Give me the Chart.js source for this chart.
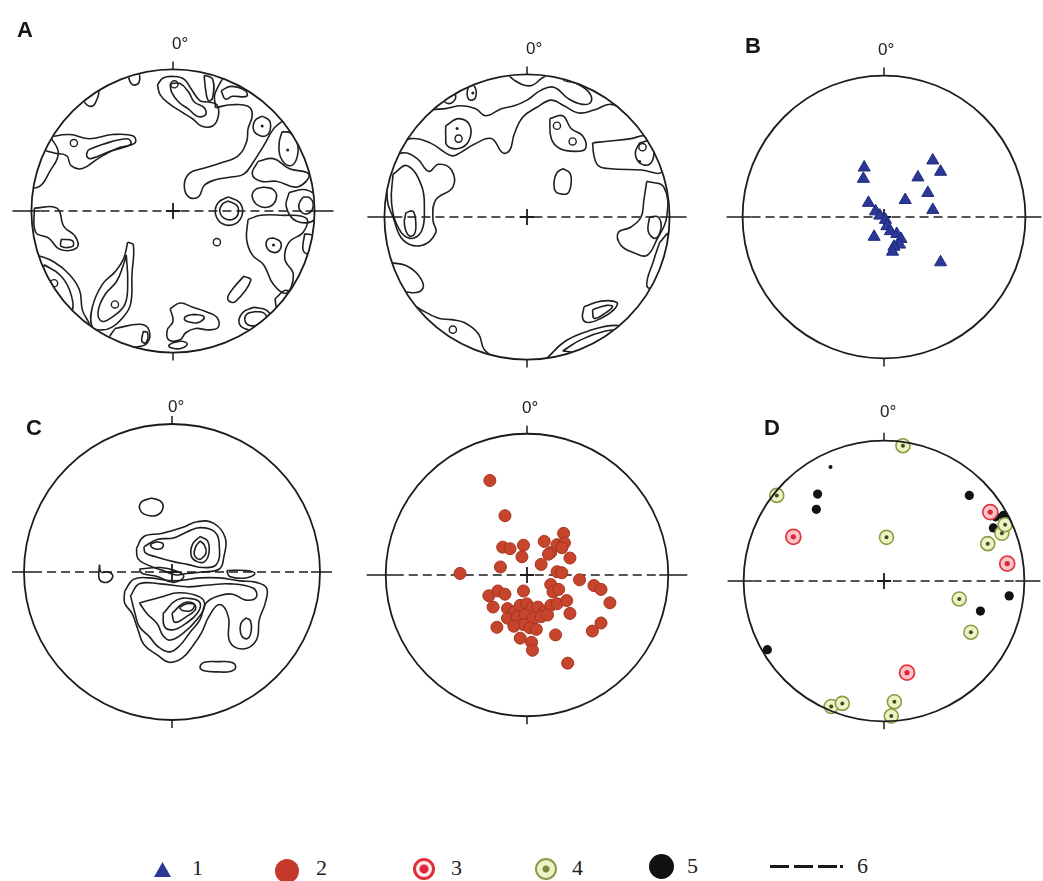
<!DOCTYPE html>
<html><head><meta charset="utf-8">
<script src="https://cdn.jsdelivr.net/npm/chart.js@4.4.1/dist/chart.umd.min.js"></script>
<style>
html,body{margin:0;padding:0;background:#fff}
body{width:1043px;height:881px;position:relative;overflow:hidden;font-family:"Liberation Sans",Arial,sans-serif}
.net{position:absolute}
.deg{position:absolute;font-size:17px;line-height:17px;color:#222;white-space:nowrap}
.let{position:absolute;font-size:22px;font-weight:bold;line-height:22px;color:#151515}
.lg{position:absolute;font-family:"Liberation Serif","DejaVu Serif",serif;font-size:22px;line-height:22px;color:#222}
.mk{position:absolute;box-sizing:border-box}
</style></head><body>
<script>
// ---------- DATA (unit-circle stereonet coordinates, x = east, y = north) ----------
const panelLetters = ['A','B','C','D'];
const northLabel = '0°';
const legendLabels = ['1','2','3','4','5','6'];

// A (left): contour lines
const a1Contours = [
 [[-0.31,0.99],[-0.25,0.99],[-0.24,0.91],[-0.28,0.89],[-0.31,0.93]],
 [[-0.63,0.84],[-0.53,0.86],[-0.55,0.76],[-0.59,0.74],[-0.63,0.78]],
 [[-0.11,0.89],[-0.07,0.94],[0.01,0.95],[0.08,0.93],[0.13,0.86],[0.19,0.78],[0.25,0.77],[0.31,0.75],[0.32,0.67],[0.28,0.60],[0.20,0.60],[0.14,0.65],[0.06,0.70],[-0.03,0.76],[-0.09,0.82]],
 [[-0.02,0.90],[0.05,0.90],[0.11,0.84],[0.15,0.77],[0.22,0.73],[0.23,0.68],[0.17,0.67],[0.11,0.72],[0.04,0.77],[-0.01,0.84]],
 [[0.22,0.96],[0.28,0.93],[0.28,0.80],[0.25,0.78],[0.23,0.86]],
 [[0.34,0.85],[0.41,0.88],[0.51,0.85],[0.52,0.81],[0.42,0.81],[0.37,0.79]],
 [[0.30,0.73],[0.41,0.75],[0.53,0.74],[0.56,0.68],[0.53,0.58],[0.52,0.49],[0.46,0.39],[0.34,0.34],[0.21,0.30],[0.12,0.27],[0.08,0.19],[0.11,0.10],[0.18,0.10],[0.22,0.18],[0.30,0.22],[0.41,0.24],[0.50,0.26],[0.57,0.35],[0.64,0.46],[0.71,0.58],[0.82,0.70],[0.66,0.92],[0.42,0.98],[0.30,0.84]],
 [[0.63,0.67],[0.68,0.64],[0.69,0.60],[0.67,0.54],[0.62,0.53],[0.57,0.57],[0.58,0.64]],
 [[0.77,0.56],[0.83,0.55],[0.88,0.47],[0.87,0.36],[0.82,0.32],[0.76,0.38],[0.75,0.48]],
 [[0.60,0.35],[0.71,0.37],[0.82,0.30],[0.96,0.26],[0.88,0.17],[0.73,0.21],[0.62,0.21],[0.56,0.26]],
 [[0.64,0.17],[0.71,0.15],[0.73,0.09],[0.68,0.03],[0.60,0.04],[0.56,0.10],[0.58,0.15]],
 [[0.39,0.10],[0.47,0.06],[0.49,-0.02],[0.44,-0.09],[0.35,-0.09],[0.30,-0.02],[0.32,0.06]],
 [[0.39,0.07],[0.45,0.04],[0.46,-0.02],[0.42,-0.06],[0.36,-0.05],[0.33,0.00],[0.35,0.05]],
 [[0.92,0.10],[0.97,0.09],[0.99,0.03],[0.95,-0.02],[0.90,0.00],[0.89,0.05]],
 [[0.82,0.13],[0.94,0.15],[1.02,0.08],[1.00,-0.06],[0.87,-0.07],[0.80,0.03]],
 [[0.53,-0.06],[0.62,-0.03],[0.76,-0.03],[0.94,-0.05],[0.92,-0.15],[0.82,-0.22],[0.79,-0.34],[0.85,-0.45],[0.80,-0.58],[0.71,-0.52],[0.64,-0.38],[0.56,-0.31],[0.52,-0.20]],
 [[0.71,-0.19],[0.76,-0.22],[0.75,-0.28],[0.70,-0.29],[0.66,-0.25],[0.67,-0.20]],
 [[0.93,-0.16],[0.99,-0.18],[0.97,-0.30],[0.92,-0.28]],
 [[0.50,-0.46],[0.55,-0.49],[0.44,-0.64],[0.39,-0.63],[0.40,-0.58]],
 [[0.57,-0.68],[0.66,-0.70],[0.69,-0.76],[0.64,-0.83],[0.54,-0.84],[0.47,-0.80],[0.49,-0.72]],
 [[0.58,-0.71],[0.64,-0.72],[0.66,-0.76],[0.62,-0.80],[0.55,-0.81],[0.51,-0.78],[0.52,-0.73]],
 [[0.72,-0.62],[0.80,-0.56],[0.86,-0.62],[0.80,-0.70],[0.74,-0.70]],
 [[-0.02,-0.69],[0.05,-0.65],[0.14,-0.68],[0.23,-0.71],[0.31,-0.75],[0.32,-0.82],[0.25,-0.84],[0.16,-0.83],[0.09,-0.86],[0.05,-0.91],[-0.03,-0.91],[-0.04,-0.84],[0.00,-0.78]],
 [[0.15,-0.73],[0.21,-0.74],[0.22,-0.76],[0.17,-0.79],[0.10,-0.78],[0.08,-0.76],[0.10,-0.74]],
 [[0.00,-0.93],[0.06,-0.92],[0.10,-0.94],[0.06,-0.97],[0.00,-0.97],[-0.03,-0.95]],
 [[-0.32,-0.22],[-0.28,-0.24],[-0.29,-0.45],[-0.30,-0.66],[-0.36,-0.76],[-0.43,-0.82],[-0.50,-0.84],[-0.57,-0.82],[-0.57,-0.68],[-0.50,-0.52],[-0.41,-0.43],[-0.35,-0.34]],
 [[-0.33,-0.31],[-0.32,-0.50],[-0.34,-0.66],[-0.43,-0.75],[-0.50,-0.78],[-0.53,-0.72],[-0.48,-0.59],[-0.40,-0.50],[-0.35,-0.38]],
 [[-0.41,-0.83],[-0.23,-0.80],[-0.17,-0.84],[-0.18,-0.93],[-0.25,-0.96],[-0.36,-0.95],[-0.45,-0.91]],
 [[-0.21,-0.85],[-0.18,-0.86],[-0.19,-0.93],[-0.22,-0.92]],
 [[-0.96,-0.31],[-0.84,-0.36],[-0.73,-0.45],[-0.66,-0.56],[-0.64,-0.70],[-0.59,-0.82],[-0.68,-0.84],[-0.80,-0.75],[-0.91,-0.61],[-1.00,-0.50]],
 [[-0.91,-0.38],[-0.80,-0.45],[-0.73,-0.56],[-0.71,-0.70],[-0.77,-0.68],[-0.87,-0.59],[-0.93,-0.50]],
 [[-0.98,0.02],[-0.82,0.02],[-0.77,-0.11],[-0.69,-0.18],[-0.68,-0.26],[-0.80,-0.27],[-0.88,-0.19],[-0.97,-0.15]],
 [[-0.79,-0.20],[-0.71,-0.21],[-0.71,-0.25],[-0.79,-0.25]],
 [[-0.89,0.52],[-0.73,0.54],[-0.59,0.51],[-0.43,0.54],[-0.28,0.53],[-0.27,0.48],[-0.40,0.44],[-0.53,0.37],[-0.64,0.30],[-0.72,0.32],[-0.75,0.39],[-0.84,0.41],[-0.91,0.44]],
 [[-0.60,0.43],[-0.50,0.47],[-0.32,0.51],[-0.30,0.47],[-0.45,0.42],[-0.58,0.37],[-0.61,0.39]],
 [[-0.87,0.53],[-0.81,0.41],[-0.87,0.28],[-0.95,0.17],[-1.05,0.20],[-1.00,0.50]]
];
const a1Rings = [[0.01,0.895],[-0.70,0.48],[-0.41,-0.66],[-0.84,-0.51],[0.31,-0.22]];
const a1Dots = [[0.63,0.60],[0.81,0.43],[0.71,-0.24]];

// A (middle): contour lines
const a2Contours = [
 [[-0.14,1.10],[-0.14,1.02],[-0.09,0.96],[0.02,0.92],[0.10,0.97],[0.16,1.02],[0.16,1.10]],
 [[-0.80,0.62],[-0.69,0.74],[-0.57,0.76],[-0.46,0.78],[-0.36,0.76],[-0.29,0.71],[-0.18,0.76],[-0.09,0.78],[0.00,0.82],[0.10,0.89],[0.19,0.91],[0.29,0.83],[0.39,0.79],[0.45,0.81],[0.43,0.88],[0.34,0.94],[0.25,0.97],[0.25,1.14],[-0.53,1.14],[-0.98,0.80]],
 [[-0.90,0.50],[-0.82,0.55],[-0.68,0.52],[-0.53,0.43],[-0.47,0.45],[-0.37,0.51],[-0.25,0.55],[-0.17,0.45],[-0.12,0.47],[-0.09,0.58],[-0.03,0.70],[0.07,0.77],[0.17,0.82],[0.26,0.78],[0.36,0.73],[0.47,0.75],[0.59,0.79],[0.73,0.72],[0.84,0.66],[1.03,0.62],[0.84,1.14],[-0.53,1.26],[-1.10,0.69]],
 [[-0.59,0.86],[-0.55,0.89],[-0.50,0.85],[-0.53,0.80],[-0.58,0.81]],
 [[-0.41,0.92],[-0.37,0.92],[-0.36,0.84],[-0.40,0.82],[-0.42,0.86]],
 [[-0.57,0.64],[-0.48,0.69],[-0.40,0.64],[-0.41,0.53],[-0.48,0.48],[-0.56,0.50],[-0.57,0.57]],
 [[0.25,0.34],[0.30,0.31],[0.31,0.24],[0.29,0.17],[0.25,0.16],[0.20,0.18],[0.19,0.25],[0.21,0.31]],
 [[0.16,0.69],[0.25,0.71],[0.31,0.62],[0.39,0.57],[0.41,0.48],[0.34,0.46],[0.23,0.48],[0.17,0.55]],
 [[0.46,0.52],[0.55,0.53],[0.73,0.55],[0.82,0.57],[0.93,0.55],[0.95,0.32],[0.80,0.33],[0.57,0.34],[0.50,0.36],[0.47,0.43]],
 [[0.79,0.52],[0.86,0.53],[0.89,0.45],[0.86,0.37],[0.79,0.38],[0.76,0.45]],
 [[0.84,0.25],[0.96,0.21],[0.98,0.00],[0.91,-0.16],[0.84,-0.27],[0.75,-0.25],[0.66,-0.20],[0.64,-0.11],[0.73,-0.07],[0.80,0.00],[0.82,0.12]],
 [[0.86,0.00],[0.92,0.00],[0.94,-0.08],[0.90,-0.15],[0.85,-0.10]],
 [[0.93,-0.18],[0.99,-0.12],[0.97,-0.32],[0.90,-0.50],[0.84,-0.48],[0.89,-0.30]],
 [[0.40,-0.63],[0.52,-0.59],[0.63,-0.60],[0.61,-0.65],[0.52,-0.71],[0.43,-0.74],[0.39,-0.71]],
 [[0.46,-0.65],[0.56,-0.62],[0.60,-0.63],[0.54,-0.68],[0.47,-0.71]],
 [[0.14,-0.99],[0.27,-0.87],[0.43,-0.80],[0.62,-0.76],[0.70,-0.80],[0.50,-1.00]],
 [[0.25,-0.94],[0.38,-0.86],[0.55,-0.80],[0.64,-0.80],[0.45,-0.95]],
 [[-0.85,-0.58],[-0.76,-0.64],[-0.62,-0.71],[-0.53,-0.72],[-0.44,-0.74],[-0.34,-0.82],[-0.30,-0.93],[-0.18,-1.03],[-0.98,-0.80]],
 [[-0.96,-0.32],[-0.85,-0.34],[-0.76,-0.41],[-0.73,-0.50],[-0.82,-0.53],[-0.92,-0.48]],
 [[-0.85,0.03],[-0.80,0.04],[-0.78,-0.04],[-0.79,-0.12],[-0.83,-0.13],[-0.86,-0.05]],
 [[-0.97,0.40],[-0.87,0.45],[-0.77,0.41],[-0.69,0.32],[-0.62,0.37],[-0.53,0.33],[-0.52,0.21],[-0.64,0.12],[-0.66,-0.02],[-0.64,-0.11],[-0.74,-0.20],[-0.87,-0.16],[-0.94,0.00],[-0.98,0.12]],
 [[-0.94,0.30],[-0.84,0.36],[-0.74,0.22],[-0.72,0.06],[-0.74,-0.10],[-0.82,-0.15],[-0.90,-0.08],[-0.95,0.10]]
];
const a2Rings = [[-0.48,0.55],[0.21,0.64],[0.32,0.53],[0.81,0.49],[-0.52,-0.79]];
const a2Dots = [[-0.49,0.62],[0.79,0.39],[-0.38,0.87]];

// B: poles (triangles)
const bPoles = [
 [-0.14,0.35],[-0.146,0.27],[0.345,0.40],[0.40,0.32],[0.24,0.28],[0.31,0.17],[0.15,0.12],
 [-0.11,0.10],[0.345,0.05],[-0.06,0.04],[-0.03,0.01],[0.01,-0.02],[0.02,-0.065],[0.045,-0.10],
 [0.09,-0.12],[0.12,-0.155],[0.11,-0.195],[0.07,-0.21],[0.06,-0.245],[-0.07,-0.14],[0.40,-0.32]
];

// C (left): contour lines
const c1Contours = [
 [[-0.14,0.50],[-0.08,0.48],[-0.06,0.44],[-0.09,0.39],[-0.15,0.38],[-0.21,0.41],[-0.21,0.47]],
 [[-0.24,0.16],[-0.19,0.24],[-0.07,0.26],[0.07,0.30],[0.17,0.34],[0.28,0.33],[0.36,0.23],[0.35,0.10],[0.32,0.02],[0.20,0.00],[0.10,-0.01],[0.03,-0.02],[-0.06,0.01],[-0.17,0.05],[-0.23,0.09]],
 [[-0.19,0.17],[-0.10,0.22],[0.01,0.23],[0.10,0.27],[0.19,0.30],[0.29,0.27],[0.32,0.17],[0.30,0.05],[0.21,0.03],[0.11,0.05],[0.01,0.07],[-0.10,0.10],[-0.18,0.13]],
 [[-0.10,0.205],[-0.06,0.19],[-0.07,0.16],[-0.11,0.155],[-0.14,0.17],[-0.14,0.19]],
 [[0.19,0.24],[0.24,0.21],[0.25,0.13],[0.22,0.07],[0.17,0.07],[0.13,0.11],[0.14,0.19]],
 [[0.19,0.21],[0.22,0.18],[0.23,0.13],[0.20,0.09],[0.17,0.09],[0.15,0.12],[0.16,0.17]],
 [[-0.32,-0.13],[-0.26,-0.05],[-0.15,-0.04],[0.01,-0.06],[0.19,-0.04],[0.32,-0.04],[0.46,-0.06],[0.57,-0.07],[0.64,-0.11],[0.63,-0.21],[0.59,-0.32],[0.57,-0.46],[0.48,-0.52],[0.39,-0.47],[0.38,-0.30],[0.32,-0.22],[0.25,-0.30],[0.20,-0.41],[0.14,-0.50],[0.07,-0.58],[-0.02,-0.61],[-0.10,-0.56],[-0.19,-0.49],[-0.23,-0.39],[-0.27,-0.28],[-0.32,-0.21]],
 [[-0.28,-0.16],[-0.22,-0.08],[-0.08,-0.08],[0.10,-0.10],[0.23,-0.09],[0.39,-0.08],[0.55,-0.11],[0.57,-0.17],[0.50,-0.19],[0.41,-0.15],[0.32,-0.16],[0.23,-0.21],[0.19,-0.32],[0.12,-0.41],[0.05,-0.50],[-0.02,-0.54],[-0.10,-0.50],[-0.15,-0.44],[-0.22,-0.37],[-0.25,-0.28]],
 [[-0.22,-0.21],[-0.08,-0.17],[0.05,-0.14],[0.19,-0.17],[0.22,-0.23],[0.17,-0.32],[0.08,-0.41],[-0.01,-0.46],[-0.06,-0.43],[-0.10,-0.35],[-0.17,-0.28]],
 [[-0.06,-0.28],[0.03,-0.19],[0.13,-0.18],[0.19,-0.21],[0.17,-0.28],[0.09,-0.35],[0.01,-0.39],[-0.05,-0.37]],
 [[0.00,-0.28],[0.08,-0.21],[0.14,-0.21],[0.16,-0.25],[0.10,-0.30],[0.02,-0.34]],
 [[0.05,-0.24],[0.10,-0.215],[0.15,-0.22],[0.13,-0.26],[0.07,-0.26]],
 [[0.50,-0.31],[0.53,-0.33],[0.535,-0.40],[0.51,-0.45],[0.47,-0.43],[0.465,-0.35]],
 [[0.31,-0.605],[0.40,-0.61],[0.43,-0.64],[0.40,-0.67],[0.31,-0.675],[0.21,-0.665],[0.19,-0.64],[0.22,-0.61]],
 [[-0.49,0.05],[-0.49,-0.05],[-0.44,-0.07],[-0.40,-0.03],[-0.43,0.00],[-0.48,0.00]],
 [[-0.22,0.02],[-0.08,0.03],[0.02,0.01],[0.08,-0.03],[0.01,-0.07],[-0.10,-0.03],[-0.20,-0.01]],
 [[0.37,0.01],[0.50,0.01],[0.56,-0.01],[0.50,-0.04],[0.39,-0.03]]
];

// C (middle): poles (red dots)
const c2Poles = [
 [-0.263,0.669],[-0.156,0.420],[-0.172,0.197],[-0.120,0.186],[-0.025,0.211],[-0.036,0.129],[0.122,0.238],
 [0.168,0.159],[0.213,0.215],[0.259,0.295],[0.265,0.227],[0.247,0.193],[0.304,0.120],[0.152,0.147],
 [0.100,0.075],[-0.188,0.057],[-0.474,0.011],[0.213,0.023],[0.247,0.016],[0.372,-0.034],[0.474,-0.075],
 [0.524,-0.102],[0.587,-0.197],[-0.270,-0.147],[-0.206,-0.113],[-0.156,-0.136],[-0.240,-0.227],[-0.025,-0.113],
 [0.168,-0.068],[0.184,-0.120],[0.224,-0.102],[-0.138,-0.238],[-0.093,-0.261],[-0.048,-0.215],[-0.002,-0.204],
 [0.032,-0.238],[0.077,-0.227],[0.122,-0.261],[0.168,-0.215],[0.213,-0.204],[0.281,-0.181],[0.304,-0.272],
 [-0.138,-0.306],[-0.070,-0.295],[-0.014,-0.283],[0.043,-0.306],[0.100,-0.295],[0.145,-0.283],[-0.025,-0.351],
 [-0.093,-0.363],[0.020,-0.374],[0.066,-0.385],[-0.213,-0.370],[-0.048,-0.447],[0.032,-0.476],[0.039,-0.533],
 [0.202,-0.424],[0.463,-0.397],[0.524,-0.340],[0.288,-0.624]
];

// D: three groups of poles
const dGroup3 = [[-0.646,0.315],[0.757,0.491],[0.878,0.124],[0.164,-0.653]];
const dGroup4 = [[0.135,0.964],[-0.764,0.610],[0.018,0.311],[0.739,0.266],[0.840,0.340],[0.863,0.401],
 [0.536,-0.128],[0.619,-0.365],[-0.376,-0.894],[-0.297,-0.872],[0.074,-0.860],[0.052,-0.962]];
const dGroup5 = [[-0.473,0.619],[-0.482,0.511],[0.608,0.610],[0.795,0.457],[0.851,0.468],[0.874,0.430],
 [0.779,0.378],[0.892,-0.106],[0.687,-0.214],[-0.831,-0.489]];
const dGroup5Small = [[-0.381,0.813]];

// ---------- RENDERING ----------
const INK = '#1f1f1f';
const panels = [
 {key:'a1', cx:173, cy:211, r:146, ext:19, clip:true, label:{x:172,y:35}, letter:{t:panelLetters[0],x:17,y:19}},
 {key:'a2', cx:527, cy:217, r:147, ext:17, clip:true, label:{x:526,y:40}},
 {key:'b',  cx:884, cy:217, r:148, ext:16, clip:false, label:{x:878,y:41}, letter:{t:panelLetters[1],x:745,y:35}},
 {key:'c1', cx:172, cy:572, r:148, ext:12, clip:true, label:{x:168,y:398}, letter:{t:panelLetters[2],x:26,y:417}},
 {key:'c2', cx:527, cy:575, r:147, ext:19, clip:false, label:{x:522,y:399}},
 {key:'d',  cx:884, cy:581, r:148, ext:16, clip:false, label:{x:880,y:403}, letter:{t:panelLetters[3],x:764,y:417}}
];
const PAD = 32;

const stereo = {
 id:'stereo',
 beforeDatasetsDraw(chart, args, o){
  const ctx = chart.ctx, xs = chart.scales.x, ys = chart.scales.y;
  const cx = xs.getPixelForValue(0), cy = ys.getPixelForValue(0), r = xs.getPixelForValue(1) - cx;
  ctx.save();
  ctx.strokeStyle = '#1c1c1c'; ctx.lineWidth = 1.7;
  ctx.setLineDash([9,5]);
  ctx.beginPath(); ctx.moveTo(cx - r + 9, cy); ctx.lineTo(cx + r - 9, cy); ctx.stroke();
  ctx.setLineDash([]);
  ctx.beginPath();
  ctx.moveTo(cx - r - o.ext, cy); ctx.lineTo(cx - r + 9, cy);
  ctx.moveTo(cx + r - 9, cy); ctx.lineTo(cx + r + o.ext, cy);
  ctx.stroke();
  ctx.lineWidth = 1.8;
  ctx.beginPath(); ctx.moveTo(cx - 7, cy); ctx.lineTo(cx + 7, cy); ctx.moveTo(cx, cy - 8); ctx.lineTo(cx, cy + 8); ctx.stroke();
  ctx.restore();
  if (o.clip){ ctx.save(); ctx.beginPath(); ctx.arc(cx, cy, r - 0.5, 0, Math.PI*2); ctx.clip(); }
 },
 afterDatasetsDraw(chart, args, o){
  const ctx = chart.ctx, xs = chart.scales.x, ys = chart.scales.y;
  if (o.clip) ctx.restore();
  const cx = xs.getPixelForValue(0), cy = ys.getPixelForValue(0), r = xs.getPixelForValue(1) - cx;
  ctx.save();
  ctx.strokeStyle = '#1c1c1c'; ctx.lineWidth = 1.8;
  ctx.beginPath(); ctx.arc(cx, cy, r, 0, Math.PI*2); ctx.stroke();
  ctx.lineWidth = 1.5;
  ctx.beginPath();
  ctx.moveTo(cx, cy - r); ctx.lineTo(cx, cy - r - 8);
  ctx.moveTo(cx, cy + r); ctx.lineTo(cx, cy + r + 8);
  ctx.stroke();
  ctx.restore();
 }
};

const pts = a => a.map(p => ({x:p[0], y:p[1]}));
function contourSets(loops){
 return loops.map(l => ({data: pts(l.concat([l[0]])), showLine:true, pointRadius:0, borderColor:INK,
   borderWidth:1.6, tension:0.42, fill:false, order:5}));
}
function ringSet(a){ return {data:pts(a), pointRadius:3.6, pointBackgroundColor:'rgba(0,0,0,0)', pointBorderColor:INK, pointBorderWidth:1.4, showLine:false, order:4}; }
function dotSet(a){ return {data:pts(a), pointRadius:1.5, pointBackgroundColor:INK, pointBorderWidth:0, showLine:false, order:4}; }

const datasetsFor = {
 a1: contourSets(a1Contours).concat([ringSet(a1Rings), dotSet(a1Dots)]),
 a2: contourSets(a2Contours).concat([ringSet(a2Rings), dotSet(a2Dots)]),
 b: [{data:pts(bPoles), pointStyle:'triangle', pointRadius:7, pointBackgroundColor:'#2b3895', pointBorderColor:'#1f2a7e', pointBorderWidth:1}],
 c1: contourSets(c1Contours),
 c2: [{data:pts(c2Poles), pointRadius:6, pointBackgroundColor:'#c6452c', pointBorderColor:'#a5331f', pointBorderWidth:1}],
 d: [
  {data:pts(dGroup4), pointRadius:2, pointBackgroundColor:'#3f4d1a', pointBorderWidth:0, order:0},
  {data:pts(dGroup4), pointRadius:7, pointBackgroundColor:'#eef2c6', pointBorderColor:'#8d9c44', pointBorderWidth:1.6, order:1},
  {data:pts(dGroup3), pointRadius:2.6, pointBackgroundColor:'#e2263a', pointBorderWidth:0, order:0},
  {data:pts(dGroup3), pointRadius:7.5, pointBackgroundColor:'#f8c6c8', pointBorderColor:'#e23a3e', pointBorderWidth:1.8, order:1},
  {data:pts(dGroup5), pointRadius:4.6, pointBackgroundColor:'#121212', pointBorderWidth:0, order:2},
  {data:pts(dGroup5Small), pointRadius:2, pointBackgroundColor:'#121212', pointBorderWidth:0, order:2}
 ]
};

function addDiv(cls, text, x, y, css){
 const d = document.createElement('div'); d.className = cls; if (text !== null) d.textContent = text;
 d.style.left = x + 'px'; d.style.top = y + 'px';
 if (css) Object.assign(d.style, css);
 document.body.appendChild(d); return d;
}

panels.forEach(p => {
 const size = 2 * (p.r + PAD);
 const cv = document.createElement('canvas');
 cv.className = 'net'; cv.width = size; cv.height = size;
 cv.style.left = (p.cx - p.r - PAD) + 'px'; cv.style.top = (p.cy - p.r - PAD) + 'px';
 cv.style.width = size + 'px'; cv.style.height = size + 'px';
 document.body.appendChild(cv);
 const lim = (p.r + PAD) / p.r;
 new Chart(cv, {
  type:'scatter',
  data:{datasets: datasetsFor[p.key]},
  options:{
   responsive:false, animation:false, events:[], devicePixelRatio:1,
   layout:{padding:0},
   scales:{
    x:{type:'linear', min:-lim, max:lim, display:false},
    y:{type:'linear', min:-lim, max:lim, display:false}
   },
   plugins:{legend:{display:false}, tooltip:{enabled:false}, stereo:{ext:p.ext, clip:p.clip}}
  },
  plugins:[stereo]
 });
 addDiv('deg', northLabel, p.label.x, p.label.y);
 if (p.letter) addDiv('let', p.letter.t, p.letter.x, p.letter.y);
});

// ---------- LEGEND ----------
addDiv('mk', null, 154, 862, {width:'17px', height:'15px', background:'#2b3895', clipPath:'polygon(50% 0,100% 100%,0 100%)'});
addDiv('lg', legendLabels[0], 192, 857);
addDiv('mk', null, 275, 859, {width:'24px', height:'24px', borderRadius:'50%', background:'#c4392c'});
addDiv('lg', legendLabels[1], 316, 857);
addDiv('mk', null, 413, 858, {width:'22px', height:'22px', borderRadius:'50%', border:'3px solid #e0303a', background:'radial-gradient(circle, #e3243a 0 4px, #fdecec 5px)'});
addDiv('lg', legendLabels[2], 451, 857);
addDiv('mk', null, 535, 858, {width:'22px', height:'22px', borderRadius:'50%', border:'2.5px solid #8a9a46', background:'radial-gradient(circle, #7a8a38 0 3px, #eef2c8 4px)'});
addDiv('lg', legendLabels[3], 572, 857);
addDiv('mk', null, 649, 854, {width:'25px', height:'25px', borderRadius:'50%', background:'#111'});
addDiv('lg', legendLabels[4], 687, 855);
[[770,19],[794,19],[818,19],[840,3]].forEach(s => addDiv('mk', null, s[0], 865, {width:s[1]+'px', height:'3px', background:'#1a1a1a'}));
addDiv('lg', legendLabels[5], 857, 855);
</script>
</body></html>
